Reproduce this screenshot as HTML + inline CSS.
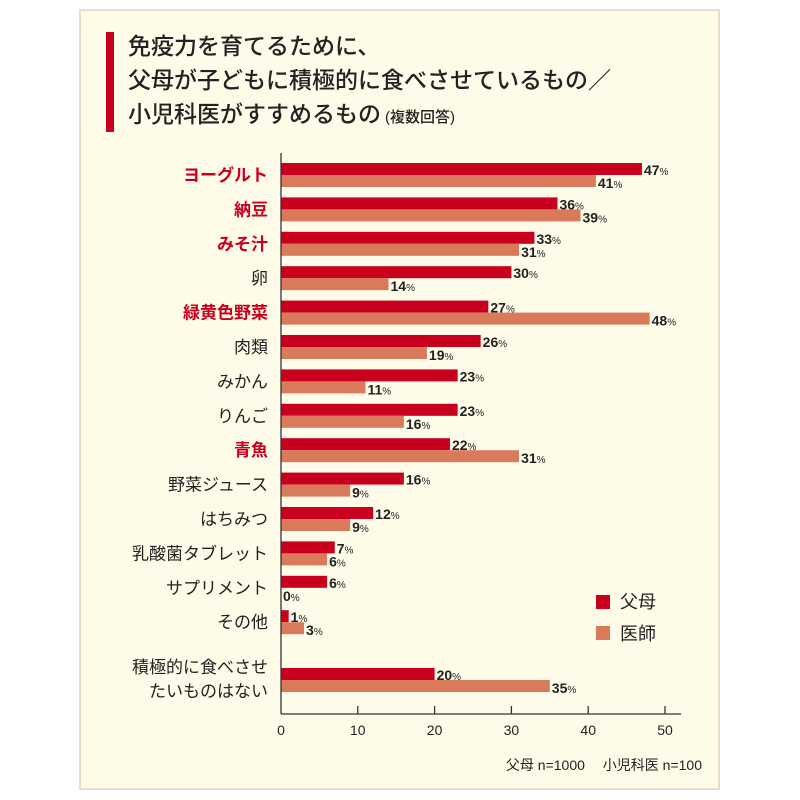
<!DOCTYPE html>
<html><head><meta charset="utf-8"><style>
body{margin:0;background:#fff;}
svg{display:block;font-family:"Liberation Sans","Noto Sans CJK JP",sans-serif;}
</style></head><body>
<svg width="800" height="800" viewBox="0 0 800 800">
<rect x="80" y="10" width="639" height="779" fill="#fefbe8" stroke="#efd9cc" stroke-width="2"/>
<rect x="106" y="32" width="8" height="100" fill="#c8001e"/>
<g font-size="23" fill="#222" font-weight="500">
<text x="128" y="54">免疫力を育てるために、</text>
<text x="128" y="88">父母が子どもに積極的に食べさせているもの／</text>
<text x="128" y="122">小児科医がすすめるもの<tspan font-size="15" dx="4">(複数回答)</tspan></text>
</g>
<g id="bars"></g>
<line x1="281" y1="153" x2="281" y2="714" stroke="#333" stroke-width="1.3"/>
<line x1="281" y1="714" x2="681" y2="714" stroke="#333" stroke-width="1.3"/>
<g stroke="#333" stroke-width="1.3">
<line x1="357.8" y1="706" x2="357.8" y2="714"/><line x1="434.6" y1="706" x2="434.6" y2="714"/>
<line x1="511.4" y1="706" x2="511.4" y2="714"/><line x1="588.2" y1="706" x2="588.2" y2="714"/>
<line x1="665" y1="706" x2="665" y2="714"/></g>
<g font-size="14" fill="#222" text-anchor="middle">
<text x="281" y="735">0</text><text x="357.8" y="735">10</text><text x="434.6" y="735">20</text>
<text x="511.4" y="735">30</text><text x="588.2" y="735">40</text><text x="665" y="735">50</text></g>
<rect x="596" y="595" width="14" height="14" fill="#c8001e"/>
<rect x="596" y="626" width="14" height="14" fill="#d97a5a"/>
<g font-size="18" fill="#222"><text x="620" y="608">父母</text><text x="620" y="640">医師</text></g>
<text x="702" y="770" font-size="14" fill="#222" text-anchor="end">父母 n=1000　 小児科医 n=100</text>
<g id="labels" font-size="17" text-anchor="end"></g>
</svg>
<script>
var d=[["ヨーグルト",47,41,1],["納豆",36,39,1],["みそ汁",33,31,1],["卵",30,14,0],["緑黄色野菜",27,48,1],["肉類",26,19,0],["みかん",23,11,0],["りんご",23,16,0],["青魚",22,31,1],["野菜ジュース",16,9,0],["はちみつ",12,9,0],["乳酸菌タブレット",7,6,0],["サプリメント",6,0,0],["その他",1,3,0]];
var ns="http://www.w3.org/2000/svg",b=document.getElementById("bars"),l=document.getElementById("labels");
function el(t,a,p,tx){var e=document.createElementNS(ns,t);for(var k in a)e.setAttribute(k,a[k]);if(tx!=null)e.innerHTML=tx;p.appendChild(e);return e;}
var s=7.68;
function row(y,v1,v2){
 el("rect",{x:281,y:y,width:v1*s,height:12,fill:"#c8001e"},b);
 el("rect",{x:281,y:y+12,width:v2*s,height:12,fill:"#d97a5a"},b);
 el("text",{x:283+v1*s,y:y+12,"font-size":14,"font-weight":"bold",fill:"#222"},b,v1+'<tspan font-size="10" font-weight="normal">%</tspan>');
 el("text",{x:283+v2*s,y:y+25,"font-size":14,"font-weight":"bold",fill:"#222"},b,v2+'<tspan font-size="10" font-weight="normal">%</tspan>');
}
d.forEach(function(r,i){var y=163+i*34.4;row(y,r[1],r[2]);
 el("text",{x:268,y:y+18,fill:r[3]?"#c8001e":"#222","font-weight":r[3]?"bold":"normal"},l,r[0]);});
row(668,20,35);
el("text",{x:268,y:673,fill:"#222"},l,"積極的に食べさせ");
el("text",{x:268,y:697,fill:"#222"},l,"たいものはない");
</script>
</body></html>
